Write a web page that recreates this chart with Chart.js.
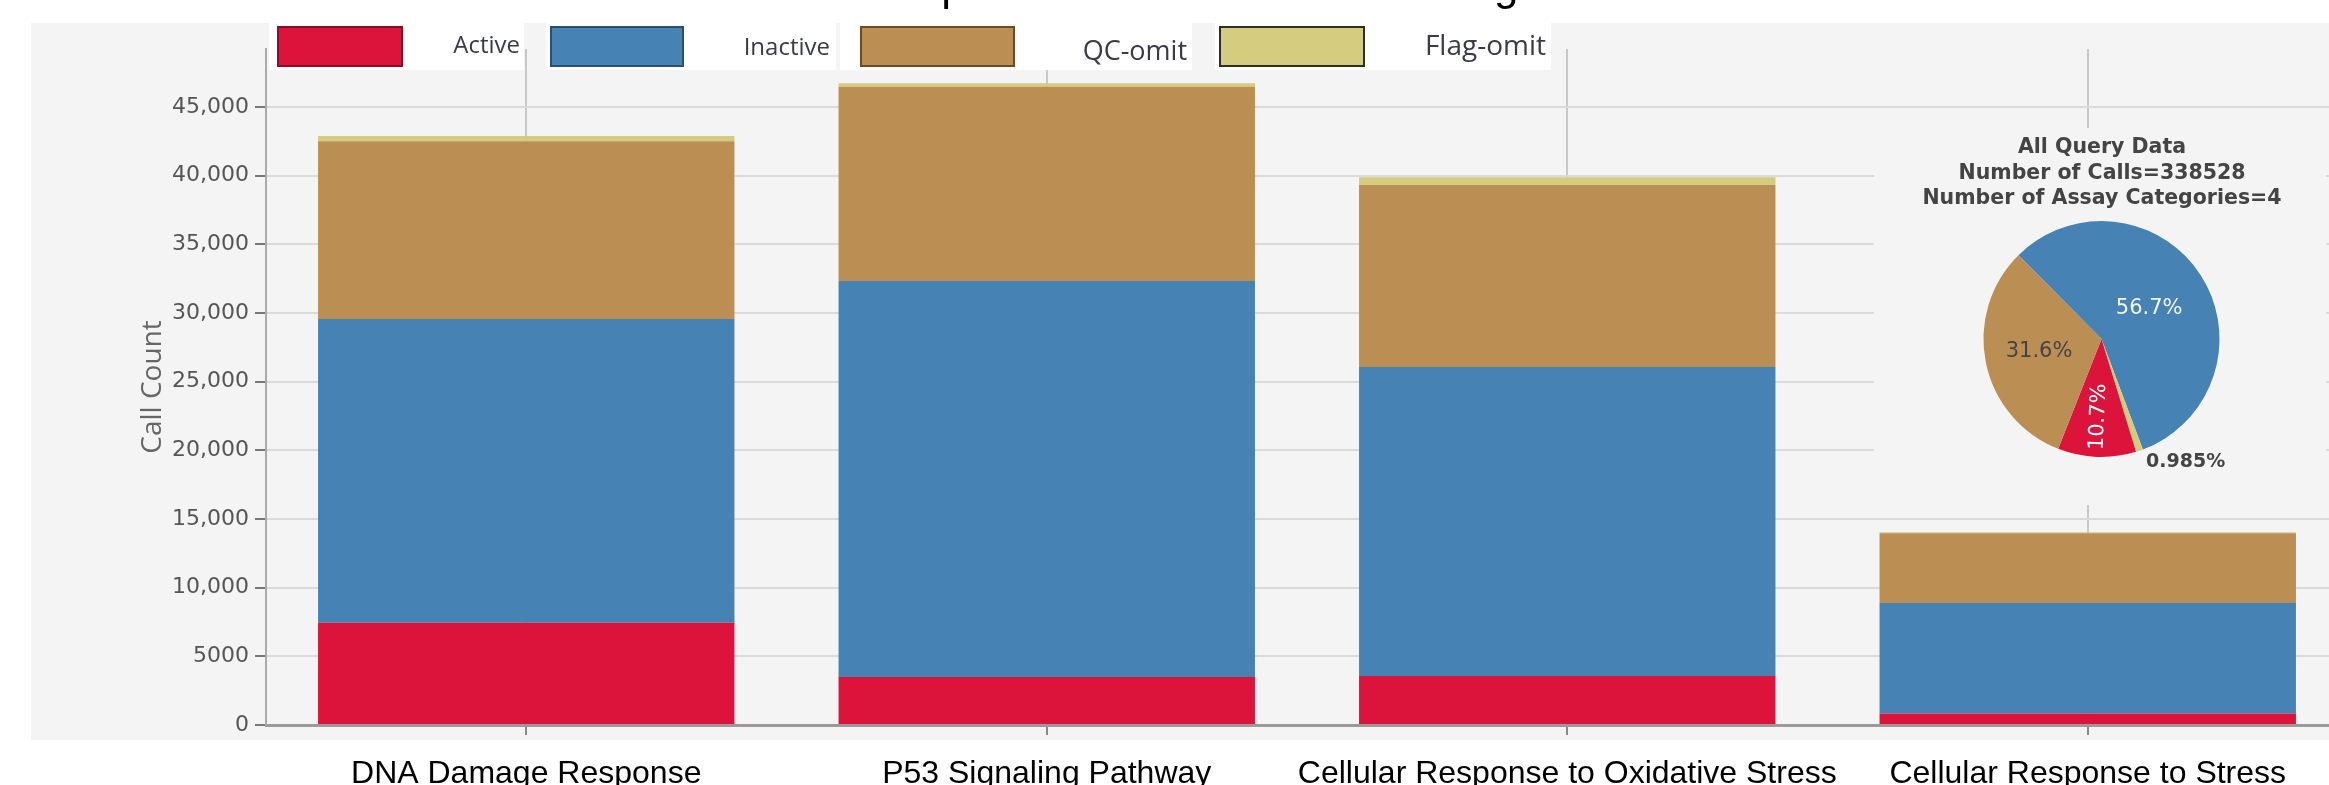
<!DOCTYPE html>
<html>
<head>
<meta charset="utf-8">
<script src="https://cdn.jsdelivr.net/npm/chart.js@4/dist/chart.umd.min.js"></script>
<style>
  html, body { margin: 0; padding: 0; background: #fff; overflow: hidden; width: 2329px; height: 785px; }
  #wrap { position: relative; width: 2329px; height: 785px; overflow: hidden; }
  #main { position: absolute; left: 0; top: 0; }
  #pie { position: absolute; left: 1874px; top: 128px; background: #f4f4f4; }
</style>
</head>
<body>
<div id="wrap">
  <canvas id="main" width="2360" height="800"></canvas>
  <canvas id="pie" width="452" height="377"></canvas>
</div>
<script>
// ---- data ----
const chartTitle = 'Chemical Effects on Cellular Stress Response and Related Gene targets';
const categories = ['DNA Damage Response', 'P53 Signaling Pathway', 'Cellular Response to Oxidative Stress', 'Cellular Response to Stress'];
const activeCalls   = [7450, 3490, 3570, 840];
const inactiveCalls = [22110, 28840, 22500, 8035];
const qcOmitCalls   = [12940, 14150, 13250, 5095];
const flagOmitCalls = [390, 250, 560, 60];
const seriesNames  = ['Active', 'Inactive', 'QC-omit', 'Flag-omit'];
const seriesColors = ['#dc143c', '#4682b4', '#bb8e53', '#d6cc7f'];
const seriesEdges  = ['#8a0d27', '#2c4f6e', '#6a4c28', '#2e2e22'];
const yTickValues = [0, 5000, 10000, 15000, 20000, 25000, 30000, 35000, 40000, 45000];
const yTickLabels = ['0', '5000', '10,000', '15,000', '20,000', '25,000', '30,000', '35,000', '40,000', '45,000'];
const yAxisTitle = 'Call Count';

const pieTitleLines = ['All Query Data', 'Number of Calls=338528', 'Number of Assay Categories=4'];
const pieSlices   = ['Inactive', 'Flag-omit', 'Active', 'QC-omit'];
const piePercents = [56.7, 0.985, 10.7, 31.6];

const seriesValues = [activeCalls, inactiveCalls, qcOmitCalls, flagOmitCalls];

// ---- main stacked bar chart ----
const backgroundPanel = {
  id: 'backgroundPanel',
  beforeDraw(chart) {
    const ctx = chart.ctx;
    ctx.save();
    ctx.fillStyle = '#f4f4f4';
    ctx.fillRect(31, 23, chart.width - 31, 740 - 23);
    ctx.restore();
  }
};

const headerAndLegend = {
  id: 'headerAndLegend',
  afterDraw(chart) {
    const ctx = chart.ctx;
    ctx.save();
    // page heading (runs off the top edge)
    ctx.fillStyle = '#000';
    ctx.font = '44px "Liberation Sans", Arial, sans-serif';
    ctx.textBaseline = 'alphabetic';
    ctx.textAlign = 'left';
    ctx.fillText(chartTitle, 162, 0);

    // legend strip
    const items = [
      { bg: [269, 524],  box: [277, 403],  tx: 520,  ty: 53, size: 24 },
      { bg: [546, 836],  box: [550, 684],  tx: 830,  ty: 55, size: 24 },
      { bg: [840, 1192], box: [860, 1015], tx: 1187, ty: 60, size: 27 },
      { bg: [1215, 1551], box: [1219, 1365], tx: 1546, ty: 55, size: 28 }
    ];
    items.forEach((it, i) => {
      ctx.fillStyle = '#ffffff';
      ctx.fillRect(it.bg[0], 23, it.bg[1] - it.bg[0], 47);
      ctx.fillStyle = seriesColors[i];
      ctx.fillRect(it.box[0], 26, it.box[1] - it.box[0], 41);
      ctx.strokeStyle = seriesEdges[i];
      ctx.lineWidth = 2;
      ctx.strokeRect(it.box[0] + 1, 27, it.box[1] - it.box[0] - 2, 39);
      ctx.fillStyle = '#3a3a48';
      ctx.font = it.size + 'px "Open Sans", "Noto Sans", sans-serif';
      ctx.textAlign = 'right';
      ctx.textBaseline = 'alphabetic';
      ctx.fillText(seriesNames[i], it.tx, it.ty);
    });
    ctx.restore();
  }
};

new Chart(document.getElementById('main'), {
  type: 'bar',
  data: {
    labels: categories,
    datasets: seriesNames.map((name, i) => ({
      label: name,
      data: seriesValues[i],
      backgroundColor: seriesColors[i],
      borderWidth: 0,
      categoryPercentage: 1.0,
      barPercentage: 0.8
    }))
  },
  options: {
    responsive: false,
    animation: false,
    devicePixelRatio: 1,
    layout: { padding: { top: 49, right: 12, left: 0, bottom: 0 } },
    plugins: {
      legend: { display: false },
      tooltip: { enabled: false },
      title: { display: false }
    },
    scales: {
      x: {
        stacked: true,
        grid: { offset: false, color: '#c8c8c8', lineWidth: 2, tickLength: 10, tickColor: '#888' },
        border: { color: '#9a9a9a', width: 3 },
        ticks: {
          font: { family: '"Liberation Sans", Arial, sans-serif', size: 32 },
          color: '#000',
          padding: 20,
          maxRotation: 0,
          autoSkip: false
        },
        afterFit(scale) { scale.height = 75; scale.paddingLeft = 0; scale.paddingRight = 0; }
      },
      y: {
        stacked: true,
        min: 0,
        max: 49220,
        afterBuildTicks(scale) { scale.ticks = yTickValues.map(v => ({ value: v })); },
        ticks: {
          font: { family: '"DejaVu Sans", Verdana, sans-serif', size: 22 },
          color: '#555',
          padding: 6,
          callback(value) {
            const i = yTickValues.indexOf(value);
            return i >= 0 ? yTickLabels[i] : '';
          }
        },
        grid: { color: '#dadada', lineWidth: 2, tickLength: 11, tickColor: '#777' },
        border: { color: '#aaaaaa', width: 2 },
        title: {
          display: true,
          text: yAxisTitle,
          color: '#666',
          font: { family: '"Open Sans", "Noto Sans", sans-serif', size: 28 },
          padding: { top: 136, bottom: 0 }
        },
        afterFit(scale) { scale.width = 266; scale.paddingTop = 0; scale.paddingBottom = 0; }
      }
    }
  },
  plugins: [backgroundPanel, headerAndLegend]
});

// ---- summary pie ----
const pieHeader = {
  id: 'pieHeader',
  afterDraw(chart) {
    const ctx = chart.ctx;
    ctx.save();
    ctx.fillStyle = '#444';
    ctx.font = 'bold 20.5px "DejaVu Sans", Verdana, sans-serif';
    ctx.textAlign = 'center';
    ctx.textBaseline = 'middle';
    pieTitleLines.forEach((line, i) => ctx.fillText(line, 228, 20 + i * 25.5));
    ctx.restore();
  }
};

const pieValueLabels = {
  id: 'pieValueLabels',
  afterDatasetsDraw(chart) {
    const ctx = chart.ctx;
    const meta = chart.getDatasetMeta(0);
    const values = chart.data.datasets[0].data;
    ctx.save();
    meta.data.forEach((arc, i) => {
      const { x, y, startAngle, endAngle, outerRadius } = arc.getProps(['x', 'y', 'startAngle', 'endAngle', 'outerRadius'], true);
      const mid = (startAngle + endAngle) / 2;
      const text = values[i] + '%';
      const name = pieSlices[i];
      ctx.textBaseline = 'middle';
      if (name === 'Inactive') {
        ctx.fillStyle = '#f4f4f4';
        ctx.font = '21px "DejaVu Sans", Verdana, sans-serif';
        ctx.textAlign = 'center';
        ctx.fillText(text, x + Math.cos(mid) * outerRadius * 0.48, y + Math.sin(mid) * outerRadius * 0.48);
      } else if (name === 'QC-omit') {
        ctx.fillStyle = '#444';
        ctx.font = '21px "DejaVu Sans", Verdana, sans-serif';
        ctx.textAlign = 'center';
        ctx.fillText(text, x + Math.cos(mid) * outerRadius * 0.54, y + Math.sin(mid) * outerRadius * 0.54);
      } else if (name === 'Active') {
        ctx.save();
        ctx.translate(x + Math.cos(mid) * outerRadius * 0.66, y + Math.sin(mid) * outerRadius * 0.66);
        ctx.rotate(mid - Math.PI);
        ctx.fillStyle = '#ffffff';
        ctx.font = '21px "DejaVu Sans", Verdana, sans-serif';
        ctx.textAlign = 'center';
        ctx.fillText(text, 0, 0);
        ctx.restore();
      } else {
        ctx.fillStyle = '#444';
        ctx.font = 'bold 19px "DejaVu Sans", Verdana, sans-serif';
        ctx.textAlign = 'left';
        const r = outerRadius + 8;
        ctx.fillText(text, x + Math.cos(mid) * r + 4, y + Math.sin(mid) * r + 4);
      }
    });
    ctx.restore();
  }
};

new Chart(document.getElementById('pie'), {
  type: 'pie',
  data: {
    labels: pieSlices,
    datasets: [{
      data: piePercents,
      backgroundColor: pieSlices.map(n => seriesColors[seriesNames.indexOf(n)]),
      borderWidth: 0
    }]
  },
  options: {
    responsive: false,
    animation: false,
    devicePixelRatio: 1,
    rotation: -44.7,
    layout: { padding: { top: 93, bottom: 48, left: 109.5, right: 106.5 } },
    plugins: { legend: { display: false }, tooltip: { enabled: false }, title: { display: false } }
  },
  plugins: [pieHeader, pieValueLabels]
});
</script>
</body>
</html>
